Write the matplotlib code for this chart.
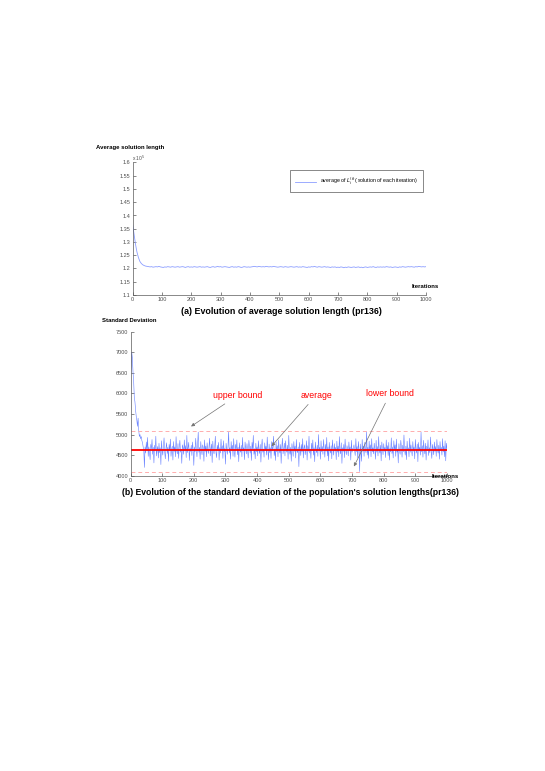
import numpy as np
import matplotlib
matplotlib.use("Agg")
import matplotlib.pyplot as plt
from matplotlib.ticker import FuncFormatter

plt.rcParams['font.family'] = ['Liberation Sans', 'DejaVu Sans']

# (a) average solution length, every 5 iterations, in units of 10^5
avg_iter = np.arange(0, 1001, 5)
avg_len = [
    1.370, 1.331, 1.293, 1.263, 1.242, 1.227, 1.219, 1.214, 1.211, 1.209,
    1.208, 1.207, 1.206, 1.207, 1.205, 1.206, 1.207, 1.206, 1.208, 1.206,
    1.205, 1.204, 1.206, 1.205, 1.207, 1.206, 1.205, 1.207, 1.206, 1.205,
    1.206, 1.207, 1.205, 1.206, 1.207, 1.206, 1.204, 1.206, 1.207, 1.205,
    1.206, 1.205, 1.207, 1.206, 1.205, 1.206, 1.207, 1.205, 1.206, 1.205,
    1.206, 1.207, 1.205, 1.204, 1.206, 1.207, 1.205, 1.206, 1.208, 1.206,
    1.207, 1.205, 1.206, 1.207, 1.206, 1.205, 1.204, 1.206, 1.207, 1.205,
    1.206, 1.205, 1.207, 1.206, 1.204, 1.205, 1.207, 1.206, 1.205, 1.206,
    1.205, 1.206, 1.207, 1.208, 1.207, 1.206, 1.208, 1.207, 1.206, 1.207,
    1.206, 1.208, 1.207, 1.206, 1.207, 1.206, 1.208, 1.207, 1.206, 1.205,
    1.206, 1.207, 1.206, 1.205, 1.207, 1.206, 1.205, 1.206, 1.207, 1.206,
    1.205, 1.206, 1.207, 1.205, 1.206, 1.205, 1.207, 1.206, 1.205, 1.204,
    1.206, 1.205, 1.207, 1.206, 1.208, 1.206, 1.205, 1.207, 1.206, 1.205,
    1.206, 1.207, 1.205, 1.206, 1.205, 1.204, 1.206, 1.205, 1.206, 1.204,
    1.205, 1.204, 1.206, 1.205, 1.203, 1.205, 1.204, 1.206, 1.205, 1.204,
    1.205, 1.206, 1.204, 1.205, 1.206, 1.204, 1.205, 1.203, 1.205, 1.206,
    1.204, 1.205, 1.206, 1.205, 1.207, 1.205, 1.204, 1.206, 1.205, 1.206,
    1.205, 1.206, 1.205, 1.207, 1.206, 1.205, 1.206, 1.204, 1.205, 1.206,
    1.205, 1.204, 1.206, 1.205, 1.207, 1.206, 1.205, 1.206, 1.207, 1.206,
    1.207, 1.206, 1.205, 1.207, 1.206, 1.208, 1.207, 1.206, 1.207, 1.206,
    1.207,
]

# (b) standard deviation of solution lengths, every 2 iterations
sd_iter = np.arange(0, 1001, 2)
sd_val = [
    6400, 6700, 7000, 6850, 6500, 6300, 5900, 5800, 5600, 5450, 5350, 5200,
    5400, 5100, 4950, 5000, 4900, 4950, 4850, 4800, 4700, 4600, 4200, 4700,
    4550, 4820, 4610, 4930, 4470, 4700, 4580, 4390, 4760, 4650, 4880, 4520, 4690, 4310, 4740, 4600, 4960, 4480, 4630, 4710,
    4430, 4790, 4560, 4680, 4270, 4850, 4620, 4500, 4730, 4920, 4580, 4410, 4670, 4800, 4540, 4690, 4350, 4760, 4610, 4890,
    4470, 4650, 4720, 4380, 4830, 4590, 4700, 4460, 4950, 4610, 4530, 4780, 4420, 4690, 4860, 4570, 4640, 4300, 4750, 4680,
    4520, 4870, 4600, 4730, 4440, 4980, 4560, 4690, 4810, 4370, 4660, 4590, 4740, 4490, 4820, 4640, 4250, 4700, 4580, 4910,
    4640, 4460, 4780, 5060, 4570, 4690, 4400, 4830, 4620, 4510, 4750, 4680, 4350, 4870, 4590, 4720, 4460, 4800, 4630, 4540,
    4700, 4910, 4480, 4650, 4770, 4320, 4840, 4600, 4530, 4690, 4960, 4570, 4440, 4740, 4620, 4810, 4380, 4680, 4550, 4890,
    4610, 4730, 4420, 4850, 4590, 4660, 4280, 4790, 4640, 4520, 4710, 5070, 4560, 4680, 4400, 4830, 4620, 4740, 4470, 4900,
    4590, 4450, 4760, 4630, 4870, 4510, 4690, 4340, 4800, 4620, 4570, 4740, 4460, 4930, 4600, 4680, 4390, 4820, 4650, 4530,
    4780, 4600, 4430, 4860, 4690, 4550, 4720, 4370, 4810, 4640, 4980, 4520, 4660, 4410, 4790, 4580, 4700, 4480, 4850, 4620,
    4540, 4760, 4330, 4690, 4890, 4570, 4650, 4450, 4800, 4610, 4720, 4500, 4940, 4630, 4390, 4770, 4560, 4680, 4420, 4830,
    4600, 4710, 4960, 4490, 4650, 4370, 4820, 4580, 4730, 4460, 4870, 4620, 4550, 4760, 4300, 4690, 4910, 4530, 4640, 4790,
    4480, 4850, 4620, 4570, 4740, 4400, 4980, 4610, 4520, 4690, 4350, 4780, 4650, 4470, 4830, 4590, 4720, 4430, 4880, 4600,
    4560, 4700, 4220, 4810, 4640, 4490, 4760, 4580, 4900, 4430, 4670, 4750, 4510, 4620, 4850, 4380, 4730, 4590, 4960, 4550,
    4650, 4420, 4790, 4610, 4870, 4500, 4680, 4340, 4820, 4630, 4560, 4740, 4470, 5000, 4600, 4690, 4400, 4850, 4580, 4710,
    4520, 4880, 4640, 4450, 4760, 4590, 4930, 4480, 4700, 4360, 4810, 4620, 4550, 4730, 4410, 4870, 4650, 4500, 4780, 4600,
    4690, 4390, 4840, 4570, 4720, 4460, 4950, 4610, 4530, 4800, 4300, 4680, 4590, 4760, 4440, 4890, 4620, 4510, 4730, 4650,
    4480, 4820, 4600, 4700, 4380, 4860, 4570, 4660, 4650, 4750, 4620, 4490, 4900, 4580, 4710, 4430, 4830, 4640, 4100, 4770,
    4610, 4350, 4880, 4590, 4720, 4470, 4810, 4630, 4560, 5070, 4500, 4690, 4420, 4840, 4600, 4750, 4460, 4900, 4580, 4680,
    4530, 4790, 4640, 4400, 4860, 4570, 4710, 4480, 4950, 4620, 4550, 4740, 4360, 4820, 4650, 4510, 4780, 4590, 4690, 4440,
    4870, 4600, 4730, 4490, 4810, 4380, 4660, 4580, 4920, 4540, 4700, 4430, 4850, 4620, 4750, 4470, 4890, 4570, 4640, 4310,
    4780, 4600, 4520, 4860, 4690, 4450, 4740, 4580, 4990, 4630, 4500, 4720, 4390, 4840, 4610, 4680, 4460, 4910, 4570, 4750,
    4620, 4480, 4830, 4590, 4700, 4410, 4880, 4640, 4550, 4770, 4340, 4810, 4600, 4690, 4500, 5060, 4580, 4730, 4450, 4860,
    4640, 4530, 4790, 4380, 4720, 4610, 4870, 4490, 4680, 4560, 4940, 4600, 4420, 4760, 4650, 4510, 4820, 4590, 4710, 4470,
    4880, 4620, 4550, 4740, 4400, 4830, 4610, 4690, 4500, 4900, 4580, 4720, 4460, 4850, 4360, 4790, 4650,
]
upper_bound = 5080
mean_sd = 4625
lower_bound = 4090

W, H = 545, 771
fig = plt.figure(figsize=(W / 100, H / 100), dpi=100)


def px(x, y):
    return x / W, 1 - y / H


def style_axes(ax):
    for s in ['top', 'right']:
        ax.spines[s].set_visible(False)
    for s in ['left', 'bottom']:
        ax.spines[s].set_linewidth(0.5)
        ax.spines[s].set_color('0.35')
    ax.tick_params(direction='in', length=2.5, width=0.5, labelsize=4.0,
                   colors='0.35', labelcolor='0.3', pad=1.5)


# top chart
ax1 = fig.add_axes([132.5 / W, 1 - 295 / H, (426 - 132.5) / W, (295 - 162.5) / H])
ax1.plot(avg_iter, avg_len, color=(0.55, 0.62, 1.0), lw=0.6,
         label=r'average of $L_i^{(t)}$( solution of each iteration)')
ax1.set_xlim(0, 1000)
ax1.set_ylim(1.1, 1.6)
ax1.set_xticks(np.arange(0, 1001, 100))
ax1.set_yticks(np.arange(1.1, 1.601, 0.05))
ax1.yaxis.set_major_formatter(FuncFormatter(lambda v, p: '%g' % round(v, 2)))
style_axes(ax1)
leg = ax1.legend(loc='upper right', bbox_to_anchor=(1.0, 0.96), fontsize=3.8,
                 fancybox=False, handlelength=4, borderpad=1.0, framealpha=1)
leg.get_frame().set_edgecolor('0.35')
leg.get_frame().set_linewidth(0.5)

fig.text(*px(96, 148), 'Average solution length', fontsize=4.3, fontweight='bold', va='center')
fig.text(*px(132, 158), r'x 10$^5$', fontsize=3.5, color='0.3', va='center')
fig.text(*px(412, 287), 'Iterations', fontsize=4.3, fontweight='bold', va='center')
fig.text(*px(281.5, 311), '(a) Evolution of average solution length (pr136)',
         fontsize=6.4, fontweight='bold', ha='center', va='center')

# bottom chart
ax2 = fig.add_axes([130.5 / W, 1 - 475.7 / H, (447 - 130.5) / W, (475.7 - 331.7) / H])
ax2.plot(sd_iter, sd_val, color=(0.4, 0.5, 1.0), lw=0.4)
ax2.axhline(upper_bound, color=(1, 0.68, 0.68), lw=0.7, ls=(0, (4, 3)))
ax2.axhline(lower_bound, color=(1, 0.68, 0.68), lw=0.7, ls=(0, (4, 3)))
ax2.axhline(mean_sd, color='red', lw=1.3)
ax2.set_xlim(0, 1000)
ax2.set_ylim(4000, 7500)
ax2.set_xticks(np.arange(0, 1001, 100))
ax2.set_yticks(np.arange(4000, 7501, 500))
style_axes(ax2)

arrow = dict(arrowstyle='-|>', color='0.45', lw=0.5, mutation_scale=5)
ax2.annotate('upper bound', xy=(184, 5160), xytext=(262, 5960), color='red',
             fontsize=6.3, ha='left', va='center', arrowprops=arrow)
ax2.annotate('average', xy=(440, 4667), xytext=(537, 5960), color='red',
             fontsize=6.3, ha='left', va='center', arrowprops=arrow)
ax2.annotate('lower bound', xy=(702, 4164), xytext=(745, 6000), color='red',
             fontsize=6.3, ha='left', va='center', arrowprops=arrow)

fig.text(*px(102, 320), 'Standard Deviation', fontsize=4.3, fontweight='bold', va='center')
fig.text(*px(432, 476), 'Iterations', fontsize=4.3, fontweight='bold', va='center')
fig.text(*px(290.5, 493),
         "(b) Evolution of the standard deviation of the population's solution lengths(pr136)",
         fontsize=6.2, fontweight='bold', ha='center', va='center')

fig.savefig('out.png', dpi=100)
